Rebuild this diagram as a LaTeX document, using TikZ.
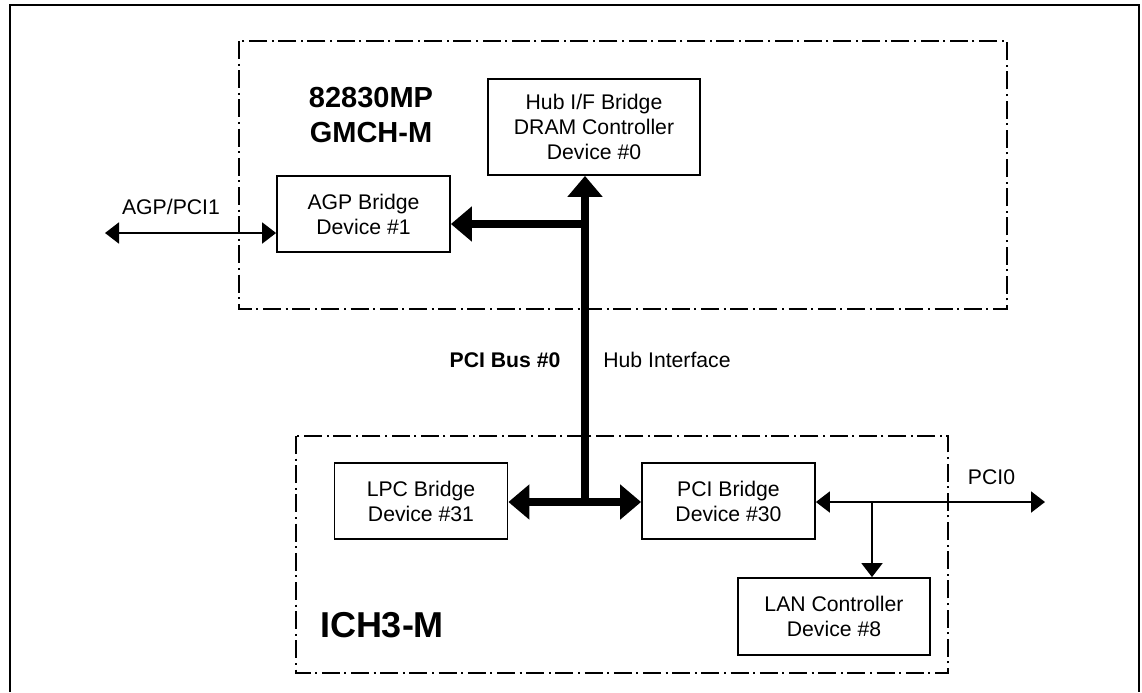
\documentclass[tikz,border=0pt]{standalone}
\usepackage{fontspec}
\setmainfont{Liberation Sans}
\usetikzlibrary{arrows.meta}

\begin{document}
\begin{tikzpicture}
	[x=0.5pt, y=-0.5pt,
		containsText/.style	={font=\fontsize{10.6}{12.5}\selectfont
									},
		boldText/.style		={font=\bfseries\fontsize{10.6}{12.5}\selectfont
									},
		chipName/.style		={font=\bfseries\fontsize{14.5}{17.5}\selectfont
									, align=center
									},
		block/.style		={rectangle
									, containsText
									, draw
									, line width=0.9pt
									, align=center
									, inner sep=0pt
									, minimum width=86.5pt
									, minimum height=38pt
									},
		chip/.style			={draw
									, line width=1pt
									, dash pattern=on 9pt off 2.3pt on 1pt off 2.3pt
									},
		line/.style			={draw
									, line width=1pt
									, >={Triangle[length=7pt,width=10.5pt]}
									},
		bus/.style			={draw
									, line width=3.8pt
									, >={Triangle[length=10.5pt,width=17pt]}
									}
	]
\useasboundingbox (0,0) rectangle (1142,692);
\draw [line width=1.4pt] (10,692) |- (1139,5) -- (1139,692);

% GMCH-M
\draw [chip] (239,41) rectangle (1007,309);
\node [chipName] (gmch name) at (371,115.5) {82830MP\\GMCH-M};
\node [block, minimum width=106pt, minimum height=48pt] (hub) at (594,127)
	{Hub I/F Bridge\\DRAM Controller\\Device \#0};
\node [block] (agp) at (363.5,214) {AGP Bridge\\Device \#1};
\node [containsText] (agp name) at (171,207) {AGP/PCI1};

% ICH3-M
\draw [chip] (296,436) rectangle (948,673);
\node [font=\bfseries\fontsize{18}{21}\selectfont] (ich name) at (382,625) {ICH3-M};
\node [block] (lpc) at (421,501) {LPC Bridge\\Device \#31};
\node [block] (pci) at (728.5,501) {PCI Bridge\\Device \#30};
\node [block, minimum width=96pt, minimum height=38.5pt] (lan) at (834,616.5)
	{LAN Controller\\Device \#8};
\node [containsText] (pci name) at (991.5,477) {PCI0};

\node [boldText] (pci bus) at (505,360) {PCI Bus \#0};
\node [containsText] (hub if) at (667,360) {Hub Interface};

\coordinate (fork) at (585,224);
\coordinate (join) at (585,502);
\coordinate (agp port) at (105,233);
\coordinate (pci port) at (1045,502);
\coordinate (lan tap) at (872,502);

\begin{scope}[every path/.style=bus]
	\path [->]	(join)				-- (join |- hub.south);
	\path [->]	(fork)				-- (agp.east |- fork);
	\path [<->]	(lpc.east |- join)	-- (pci.west |- join);
\end{scope}
\begin{scope}[every path/.style=line]
	\path [<->]	(agp port)			-- (agp.west |- agp port);
	\path [<->]	(pci.east |- pci port) -- (pci port);
	\path [->]	(lan tap)			-- (lan tap |- lan.north);
\end{scope}
\end{tikzpicture}
\end{document}
